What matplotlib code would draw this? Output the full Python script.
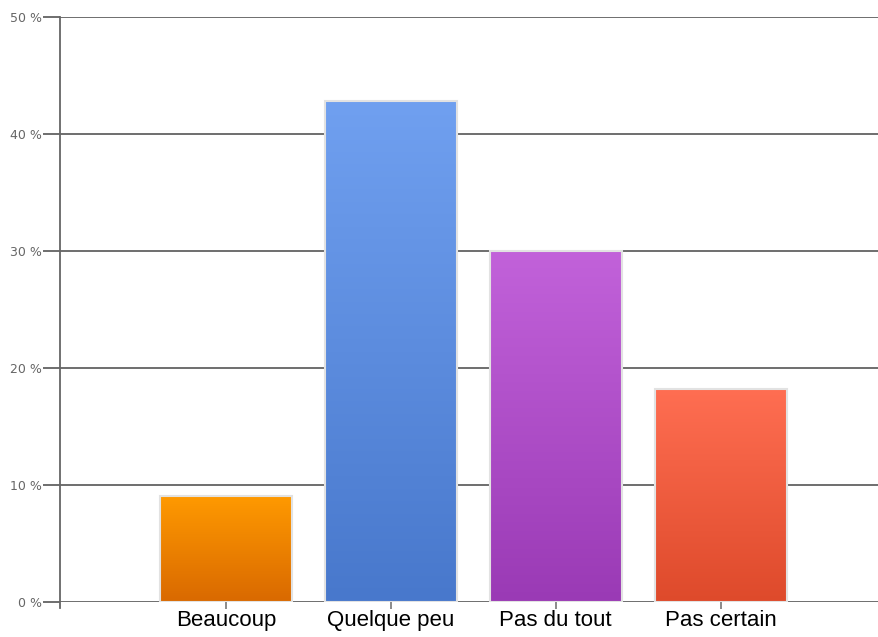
import numpy as np
from matplotlib import pyplot as plt
from matplotlib.colors import LinearSegmentedColormap

categories = ["Beaucoup", "Quelque peu", "Pas du tout", "Pas certain"]
values = [9.1, 42.8, 30.0, 18.2]
y_ticks = [0, 10, 20, 30, 40, 50]
y_labels = ["0 %", "10 %", "20 %", "30 %", "40 %", "50 %"]
# (top colour, bottom colour) for each bar
bar_colors = [("#ff9a00", "#d96900"),
              ("#70a0f0", "#4878cc"),
              ("#c262da", "#9a3ab5"),
              ("#ff6e52", "#de4a2b")]

fig = plt.figure(figsize=(8.79, 6.37), dpi=100)
ax = fig.add_axes([60 / 879, 35 / 637, 819 / 879, 585 / 637])

x = np.arange(len(categories))
bars = ax.bar(x, values, width=0.8, edgecolor="#e2e2e2", linewidth=1.5, zorder=2)

grad = np.linspace(0, 1, 256).reshape(-1, 1)
for b, (top, bottom) in zip(bars, bar_colors):
    cmap = LinearSegmentedColormap.from_list("g", [bottom, top])
    x0, y0 = b.get_x(), b.get_y()
    im = ax.imshow(grad, cmap=cmap, aspect="auto", origin="lower",
                   extent=(x0, x0 + b.get_width(), y0, y0 + b.get_height()), zorder=2.5)
    im.set_clip_path(b)
    b.set_facecolor("none")
    b.set_zorder(3)

ax.set_xlim(-1.006, 3.96)
ax.set_ylim(0, 50)
ax.set_yticks(y_ticks)
ax.set_yticklabels(y_labels)
ax.set_xticks(x)
ax.set_xticklabels(categories, fontsize=16, family=["Liberation Sans", "DejaVu Sans"])
ax.yaxis.grid(True, color="#555555", linewidth=1.2, zorder=0)
ax.set_axisbelow(True)

for s in ["top", "right", "bottom"]:
    ax.spines[s].set_visible(False)
ax.spines["left"].set_color("#666666")
ax.spines["left"].set_linewidth(1.3)
ax.spines["left"].set_bounds(-0.5, 50)

ax.tick_params(axis="y", length=12, width=1.2, color="#555555", labelcolor="#666666",
               labelsize=9, pad=1)
ax.tick_params(axis="x", length=5, width=1.2, color="#777777", pad=1)

fig.savefig("out.png", dpi=100)
